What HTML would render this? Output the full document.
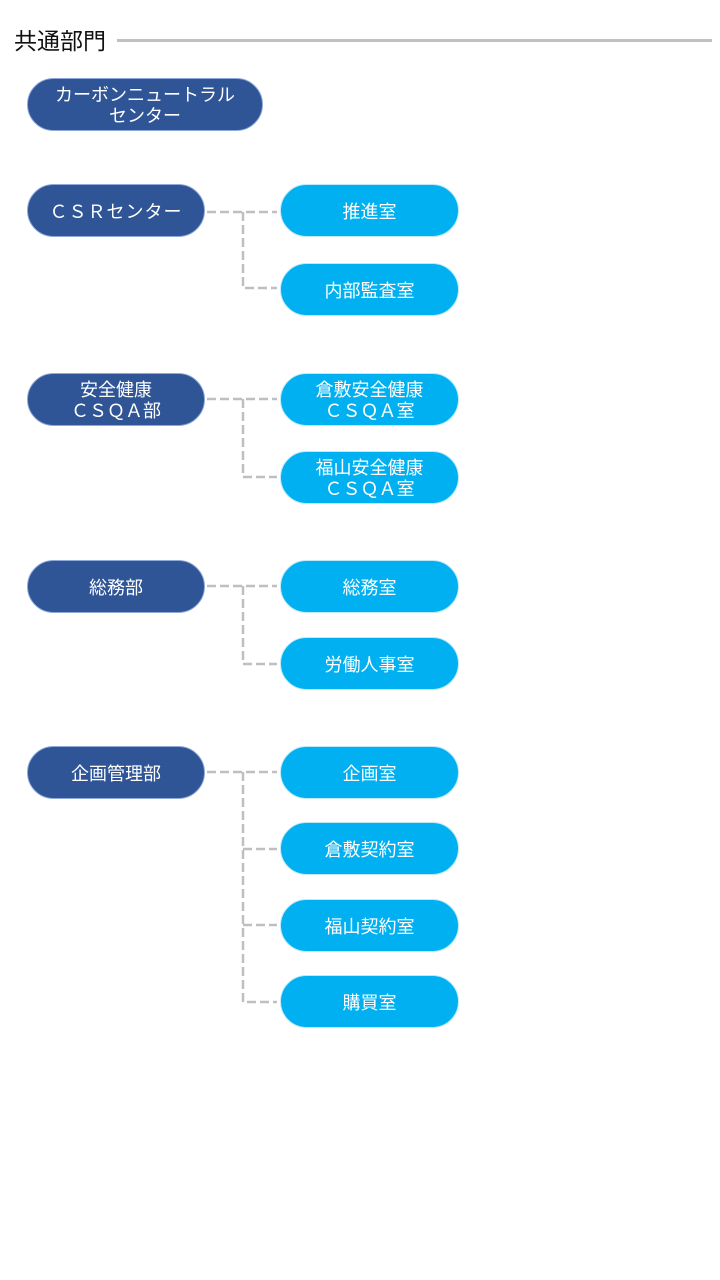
<!DOCTYPE html>
<html><head><meta charset="utf-8"><style>
body{margin:0;width:720px;height:1280px;background:#fff;position:relative;font-family:"Liberation Sans","Noto Sans CJK JP",sans-serif;overflow:hidden}
.h{position:absolute;left:14px;top:25px;font-size:23px;color:#111;line-height:32px}
.hl{position:absolute;left:117px;top:39px;width:595px;height:3px;background:#c0c0c0}
.p{position:absolute;box-sizing:border-box;height:53px;border-radius:27px;color:#fff;font-size:18px;line-height:21px;display:flex;align-items:center;justify-content:center;text-align:center;padding-top:3px}
.d{background:#2f5597;border:1px solid #8ea9db;width:178px;left:27px}
.l{background:#00b0f0;border:1px solid #bde9fb;width:179px;left:280px}
svg{position:absolute;left:0;top:0}
</style></head><body>
<div class="h">共通部門</div><div class="hl"></div>
<div class="p d" style="top:78px;width:236px">カーボンニュートラル<br>センター</div>
<div class="p d" style="top:184px;letter-spacing:1px">ＣＳＲセンター</div>
<div class="p l" style="top:184px">推進室</div>
<div class="p l" style="top:263px">内部監査室</div>
<div class="p d" style="top:373px">安全健康<br>ＣＳＱＡ部</div>
<div class="p l" style="top:373px">倉敷安全健康<br>ＣＳＱＡ室</div>
<div class="p l" style="top:451px">福山安全健康<br>ＣＳＱＡ室</div>
<div class="p d" style="top:560px">総務部</div>
<div class="p l" style="top:560px">総務室</div>
<div class="p l" style="top:637px">労働人事室</div>
<div class="p d" style="top:746px">企画管理部</div>
<div class="p l" style="top:746px">企画室</div>
<div class="p l" style="top:822px">倉敷契約室</div>
<div class="p l" style="top:899px">福山契約室</div>
<div class="p l" style="top:975px">購買室</div>
<svg width="720" height="1280"><g stroke="#bfbfbf" stroke-width="2.5" fill="none" stroke-dasharray="9,4">
<path d="M207 212H277M243 212V288H277"/>
<path d="M207 399H277M243 399V477H277"/>
<path d="M207 586H277M243 586V664H277"/>
<path d="M207 772H277M243 772V1002H277M243 849H277M243 925H277"/>
</g></svg>
</body></html>
